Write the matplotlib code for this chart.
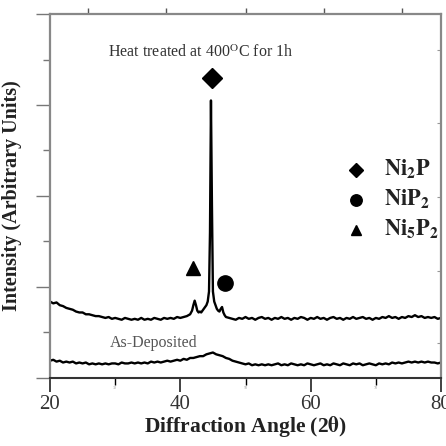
import numpy as np
import matplotlib.pyplot as plt

plt.rcParams['font.family'] = ['Liberation Serif', 'DejaVu Serif']
plt.rcParams['mathtext.fontset'] = 'stix'

# heat treated trace (2theta, intensity)
ht_angle = [20.0, 20.5, 21.0, 21.5, 22.0, 22.5, 23.0, 23.5, 24.0, 24.5, 25.0, 25.5,
            26.0, 26.5, 27.0, 27.5, 28.0, 28.5, 29.0, 29.5, 30.0, 30.5, 31.0, 31.5,
            32.0, 32.5, 33.0, 33.5, 34.0, 34.5, 35.0, 35.5, 36.0, 36.5, 37.0, 37.5,
            38.0, 38.5, 39.0, 39.5, 40.0, 40.5, 41.0, 41.5,
            41.8, 42.0, 42.2, 42.4, 42.6, 42.8, 43.0, 43.2, 43.4, 43.6, 43.8, 44.0,
            44.2, 44.4, 44.55, 44.7, 44.85, 45.0, 45.2, 45.4, 45.6, 45.8, 46.0, 46.2,
            46.4, 46.6, 46.8, 47.0, 47.5, 48.0,
            48.5, 49.0, 49.5, 50.0, 50.5, 51.0, 51.5, 52.0, 52.5, 53.0, 53.5, 54.0,
            54.5, 55.0, 55.5, 56.0, 56.5, 57.0, 57.5, 58.0, 58.5, 59.0, 59.5, 60.0,
            60.5, 61.0, 61.5, 62.0, 62.5, 63.0, 63.5, 64.0, 64.5, 65.0, 65.5, 66.0,
            66.5, 67.0, 67.5, 68.0, 68.5, 69.0, 69.5, 70.0, 70.5, 71.0, 71.5, 72.0,
            72.5, 73.0, 73.5, 74.0, 74.5, 75.0, 75.5, 76.0, 76.5, 77.0, 77.5, 78.0,
            78.5, 79.0, 79.5, 80.0]
ht_intensity = [0.84, 0.82, 0.83, 0.80, 0.79, 0.77, 0.76, 0.75, 0.73, 0.72, 0.72, 0.70,
                0.70, 0.69, 0.68, 0.68, 0.67, 0.66, 0.67, 0.65, 0.66, 0.65, 0.64, 0.66,
                0.65, 0.64, 0.65, 0.64, 0.66, 0.64, 0.65, 0.64, 0.66, 0.65, 0.64, 0.66,
                0.65, 0.66, 0.65, 0.67, 0.66, 0.67, 0.68, 0.70,
                0.74, 0.80, 0.85, 0.80, 0.74, 0.72, 0.73, 0.72, 0.74, 0.76, 0.78, 0.80,
                0.84, 0.95, 1.60, 3.05, 1.90, 0.95, 0.84, 0.80, 0.76, 0.74, 0.73, 0.76,
                0.78, 0.72, 0.69, 0.67, 0.66, 0.65,
                0.64, 0.66, 0.65, 0.67, 0.65, 0.66, 0.64, 0.66, 0.67, 0.65, 0.66, 0.64,
                0.66, 0.65, 0.67, 0.65, 0.66, 0.64, 0.66, 0.65, 0.67, 0.66, 0.64, 0.66,
                0.65, 0.67, 0.65, 0.66, 0.64, 0.66, 0.67, 0.65, 0.66, 0.64, 0.66, 0.65,
                0.67, 0.65, 0.66, 0.67, 0.65, 0.66, 0.64, 0.66, 0.65, 0.67, 0.66, 0.68,
                0.66, 0.67, 0.65, 0.67, 0.66, 0.68, 0.67, 0.69, 0.67, 0.68, 0.66, 0.67,
                0.66, 0.67, 0.65, 0.66]

# as-deposited trace
ad_angle = [20.0, 20.5, 21.0, 21.5, 22.0, 22.5, 23.0, 23.5, 24.0, 24.5, 25.0, 25.5,
            26.0, 26.5, 27.0, 27.5, 28.0, 28.5, 29.0, 29.5, 30.0, 30.5, 31.0, 31.5,
            32.0, 32.5, 33.0, 33.5, 34.0, 34.5, 35.0, 35.5, 36.0, 36.5, 37.0, 37.5,
            38.0, 38.5, 39.0, 39.5, 40.0, 40.5, 41.0, 41.5, 42.0, 42.5, 43.0, 43.5,
            44.0, 44.5, 45.0, 45.5, 46.0, 46.5, 47.0, 47.5, 48.0, 48.5, 49.0, 49.5,
            50.0, 50.5, 51.0, 51.5, 52.0, 52.5, 53.0, 53.5, 54.0, 54.5, 55.0, 55.5,
            56.0, 56.5, 57.0, 57.5, 58.0, 58.5, 59.0, 59.5, 60.0, 60.5, 61.0, 61.5,
            62.0, 62.5, 63.0, 63.5, 64.0, 64.5, 65.0, 65.5, 66.0, 66.5, 67.0, 67.5,
            68.0, 68.5, 69.0, 69.5, 70.0, 70.5, 71.0, 71.5, 72.0, 72.5, 73.0, 73.5,
            74.0, 74.5, 75.0, 75.5, 76.0, 76.5, 77.0, 77.5, 78.0, 78.5, 79.0, 79.5, 80.0]
ad_intensity = [0.19, 0.20, 0.18, 0.19, 0.17, 0.18, 0.17, 0.18, 0.16, 0.17, 0.16, 0.17,
                0.15, 0.16, 0.15, 0.16, 0.15, 0.16, 0.15, 0.16, 0.16, 0.15, 0.17, 0.16,
                0.16, 0.17, 0.16, 0.17, 0.16, 0.17, 0.16, 0.18, 0.17, 0.18, 0.17, 0.18,
                0.19, 0.18, 0.19, 0.20, 0.19, 0.21, 0.20, 0.22, 0.22, 0.23, 0.24, 0.24,
                0.26, 0.27, 0.28, 0.26, 0.25, 0.24, 0.22, 0.21, 0.19, 0.18, 0.17, 0.16,
                0.15, 0.16, 0.14, 0.15, 0.14, 0.15, 0.14, 0.15, 0.14, 0.15, 0.16, 0.14,
                0.15, 0.14, 0.16, 0.15, 0.14, 0.15, 0.14, 0.16, 0.15, 0.14, 0.15, 0.16,
                0.14, 0.15, 0.14, 0.16, 0.15, 0.14, 0.16, 0.15, 0.14, 0.16, 0.15, 0.16,
                0.14, 0.15, 0.16, 0.15, 0.14, 0.16, 0.15, 0.16, 0.15, 0.17, 0.16, 0.17,
                0.16, 0.17, 0.18, 0.17, 0.18, 0.17, 0.18, 0.17, 0.18, 0.17, 0.17, 0.16, 0.17]

# phase markers on the pattern
phase_labels = [r'$\mathbf{Ni_2P}$', r'$\mathbf{NiP_2}$', r'$\mathbf{Ni_5P_2}$']
phase_markers = ['D', 'o', '^']
peak_x = [44.8, 46.9, 42.0]
peak_y = [3.30, 1.04, 1.21]
key_y = [2.29, 1.96, 1.63]

fig = plt.figure(figsize=(4.46, 4.46), dpi=100)
ax = fig.add_axes([0.1121, 0.1525, 0.8767, 0.8161])

ax.plot(ht_angle, ht_intensity, color='black', lw=1.7)
ax.plot(ad_angle, ad_intensity, color='black', lw=1.7)

sizes = [10, 11, 10]
for i in range(3):
    ax.plot(peak_x[i], peak_y[i], marker=phase_markers[i], color='black',
            markersize=sizes[i], linestyle='none')
    ax.plot(66.9, key_y[i], marker=phase_markers[i], color='black',
            markersize=sizes[i] * 0.75, linestyle='none')
    ax.text(71.3, key_y[i], phase_labels[i], fontsize=16, color='#222222',
            ha='left', va='center')

ax.text(28.9, 3.58, r'Heat treated at 400$^{\rm O}$C for 1h', fontsize=11.5,
        color='#333333', ha='left', va='center')
ax.text(29.2, 0.38, 'As-Deposited', fontsize=11.5, color='#555555',
        ha='left', va='center')

ax.set_xlim(20, 80)
ax.set_ylim(0, 4)
ax.set_xticks([20, 40, 60, 80])
ax.set_xticks([30, 50, 70], minor=True)
ax.set_xticklabels(['30', '50', '70'], minor=True, fontsize=3, color='#999999')
ax.set_yticks([0, 1, 2, 3, 4])
ax.set_yticks([0.5, 1.5, 2.5, 3.5], minor=True)
ax.set_yticklabels([])
ax.tick_params(axis='x', which='major', direction='out', length=10, width=1.3,
               labelsize=15, colors='#333333', pad=2)
ax.tick_params(axis='x', which='minor', direction='out', length=5, width=1.0, pad=1)
ax.tick_params(axis='y', which='major', direction='out', length=10, width=1.0,
               color='#777777')
ax.tick_params(axis='y', which='minor', direction='out', length=5, width=1.0,
               color='#777777')
for side in ['top', 'right', 'left']:
    ax.spines[side].set_color('#888888')
    ax.spines[side].set_linewidth(1.6)
ax.spines['bottom'].set_color('#333333')
ax.spines['bottom'].set_linewidth(1.5)

top = ax.secondary_xaxis('top')
top.set_xticks([25.8, 37.8, 50.0, 62.0, 74.0])
top.set_xticklabels([])
top.tick_params(direction='out', length=4, width=1.0, color='#555555')
top.spines['top'].set_visible(False)

right = ax.secondary_yaxis('right')
right.set_yticks([0.38, 1.18, 1.99, 2.8, 3.6])
right.set_yticklabels([])
right.tick_params(direction='in', length=3, width=0.8, color='#999999')
right.spines['right'].set_visible(False)

ax.set_xlabel(r'Diffraction Angle (2$\mathbf{\theta}$)', fontsize=15.5,
              fontweight='bold', color='#222222', labelpad=0)
ax.set_ylabel('Intensity (Arbitrary Units)', fontsize=14.5, fontweight='bold',
              color='#222222')
ax.yaxis.set_label_coords(-0.072, 0.5)

fig.savefig('out.png', dpi=100)
plt.close(fig)
